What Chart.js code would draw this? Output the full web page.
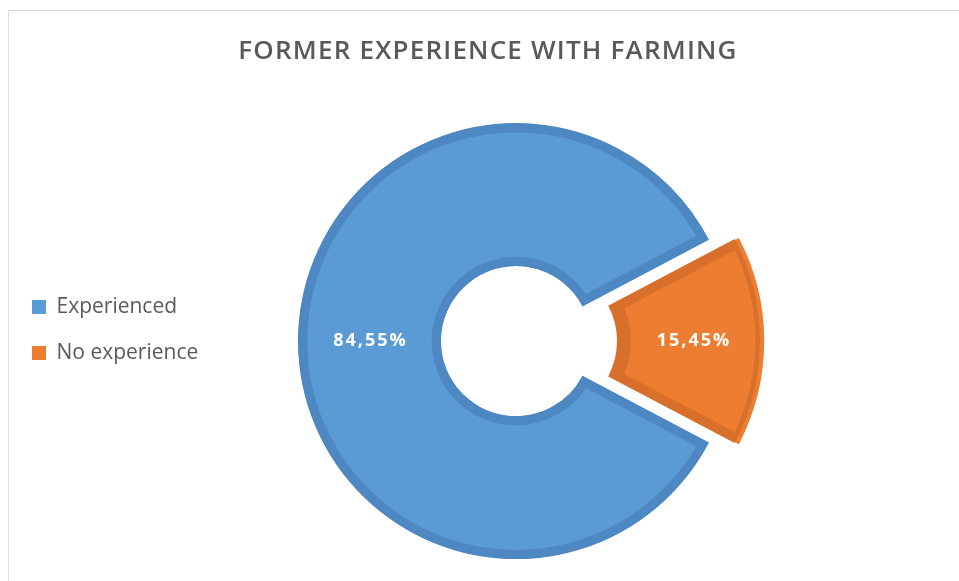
<!DOCTYPE html>
<html>
<head>
<meta charset="utf-8">
<title>Former experience with farming</title>
<script src="https://cdn.jsdelivr.net/npm/chart.js"></script>
<style>
  html, body { margin: 0; padding: 0; background: #fff; overflow: hidden; }
  #frame {
    position: absolute; left: 8px; top: 10px;
    border-top: 1px solid #d4d4d4; border-left: 1px solid #dedede;
  }
  #frame canvas { display: block; }
</style>
</head>
<body>
<div id="frame"><canvas id="farmingChart" width="1014" height="571"></canvas></div>
<script>
const categories = ['Experienced', 'No experience'];
const shares = [84.55, 15.45];
const fillColors = ['#5B9BD5', '#ED7D31'];
const edgeColors = ['#4E88C3', '#D8702B'];
const explode = [0, 104];

const FONT = '"Open Sans", "Liberation Sans", sans-serif';
const TITLE_SHIFT = -28;

function formatShare(v) {
  return v.toFixed(2).replace('.', ',') + '%';
}

// percentage labels in the middle of each ring segment (follows the exploded slice)
const sliceLabels = {
  id: 'sliceLabels',
  afterDatasetsDraw(chart) {
    const ctx = chart.ctx;
    const meta = chart.getDatasetMeta(0);
    ctx.save();
    ctx.font = 'bold 18px ' + FONT;
    ctx.fillStyle = '#ffffff';
    ctx.textAlign = 'center';
    ctx.textBaseline = 'middle';
    ctx.letterSpacing = '2px';
    meta.data.forEach((arc, i) => {
      const p = arc.getProps(['x', 'y', 'startAngle', 'endAngle', 'innerRadius', 'outerRadius', 'circumference']);
      const mid = (p.startAngle + p.endAngle) / 2;
      const shift = (arc.options.offset || 0) / 4;
      const grow = shift * (1 - Math.sin(Math.min(Math.PI, p.circumference)));
      const r = (p.innerRadius + p.outerRadius) / 2 + shift + grow;
      ctx.fillText(formatShare(shares[i]), p.x + Math.cos(mid) * r + 1, p.y + Math.sin(mid) * r);
    });
    ctx.restore();
  }
};

// spaced-out title sitting a bit left of the ring; legend placed beside it, slightly above centre
const titleTweaks = {
  id: 'titleTweaks',
  afterLayout(chart) {
    const legend = chart.legend;
    const area = chart.chartArea;
    if (legend) {
      legend.top = area.top - 11;
      legend.bottom = area.bottom - 11;
      legend.left = area.left - 2;
    }
  },
  beforeDraw(chart) {
    const block = chart.titleBlock;
    if (!block || block._spaced) return;
    const draw = block.draw;
    block.draw = function (area) {
      const ctx = this.ctx;
      ctx.save();
      ctx.letterSpacing = '1.2px';
      ctx.translate(TITLE_SHIFT, 0);
      draw.call(this, area);
      ctx.restore();
    };
    block._spaced = true;
  }
};

new Chart(document.getElementById('farmingChart'), {
  type: 'doughnut',
  data: {
    labels: categories,
    datasets: [{
      data: shares,
      backgroundColor: fillColors,
      borderColor: edgeColors,
      borderWidth: 9,
      borderAlign: 'inner',
      borderJoinStyle: 'miter',
      offset: explode
    }]
  },
  options: {
    responsive: false,
    animation: false,
    events: [],
    radius: 218,
    cutout: (75 / 218 * 100) + '%',
    rotation: 90 + shares[1] / 100 * 180,
    layout: { padding: { bottom: 11 } },
    plugins: {
      title: {
        display: true,
        text: 'FORMER EXPERIENCE WITH FARMING',
        color: '#595959',
        font: { family: FONT, size: 26, weight: '600' },
        padding: { top: 25, bottom: 44 }
      },
      legend: {
        display: true,
        position: 'chartArea',
        labels: {
          boxWidth: 14,
          boxHeight: 14,
          padding: 25,
          color: '#595959',
          font: { family: FONT, size: 21 },
          generateLabels(chart) {
            const items = Chart.overrides.doughnut.plugins.legend.labels.generateLabels(chart);
            items.forEach(item => { item.lineWidth = 0; });
            return items;
          }
        }
      },
      tooltip: { enabled: false }
    }
  },
  plugins: [sliceLabels, titleTweaks]
});
</script>
</body>
</html>
